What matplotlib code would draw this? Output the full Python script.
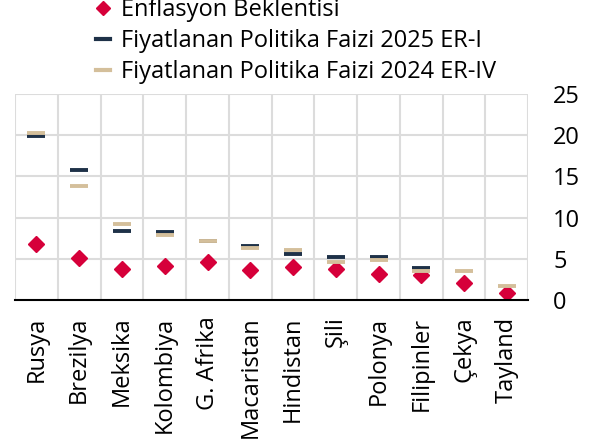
import matplotlib.pyplot as plt
from matplotlib.lines import Line2D
import numpy as np

plt.rcParams['font.family'] = ['Open Sans', 'DejaVu Sans']

# Data
countries = ['Rusya', 'Brezilya', 'Meksika', 'Kolombiya', 'G. Afrika', 'Macaristan',
             'Hindistan', 'Şili', 'Polonya', 'Filipinler', 'Çekya', 'Tayland']
inflation_exp = [6.8, 5.1, 3.8, 4.1, 4.6, 3.6, 4.0, 3.7, 3.2, 3.0, 2.0, 0.9]
rate_2025q1 = [19.9, 15.8, 8.4, 8.2, 7.1, 6.6, 5.6, 5.2, 5.2, 3.9, np.nan, np.nan]
rate_2024q4 = [20.3, 13.8, 9.2, 7.9, 7.1, 6.3, 6.0, 4.6, 4.9, 3.5, 3.5, 1.7]

red = '#d6003a'
navy = '#1e3148'
tan = '#d4bf9b'

fig = plt.figure(figsize=(6.03, 4.45), dpi=100)
ax = fig.add_axes([0.025, 0.326, 0.851, 0.463])

x = np.arange(len(countries))
ax.plot(x, inflation_exp, linestyle='none', marker='D', markersize=8.5,
        color=red, zorder=3)
ax.plot(x, rate_2025q1, linestyle='none', marker='_', markersize=12.5,
        markeredgewidth=2.8, color=navy, zorder=4)
ax.plot(x, rate_2024q4, linestyle='none', marker='_', markersize=12.5,
        markeredgewidth=2.8, color=tan, zorder=5)

ax.set_xlim(-0.5, len(countries) - 0.5)
ax.set_ylim(0, 25)
ax.set_yticks([0, 5, 10, 15, 20, 25])
ax.yaxis.tick_right()
ax.tick_params(axis='y', length=0, labelsize=17, pad=18)
ax.set_xticks(x)
ax.set_xticklabels(countries, rotation=90, fontsize=17)
ax.tick_params(axis='x', length=0, pad=12)

# gridlines: horizontal at ticks, vertical at category boundaries
for yv in [5, 10, 15, 20, 25]:
    ax.axhline(yv, color='#dcdcdc', lw=1.5, zorder=1)
for xv in np.arange(-0.5, len(countries), 1.0):
    ax.axvline(xv, color='#dcdcdc', lw=1.5, zorder=1)

for s in ['top', 'left', 'right']:
    ax.spines[s].set_visible(False)
ax.spines['bottom'].set_color('black')
ax.spines['bottom'].set_linewidth(1.5)
ax.spines['bottom'].set_zorder(6)

handles = [
    Line2D([], [], linestyle='none', marker='D', markersize=7, color=red),
    Line2D([], [], color=navy, lw=3),
    Line2D([], [], color=tan, lw=3),
]
labels = ['Enflasyon Beklentisi', 'Fiyatlanan Politika Faizi 2025 ER-I',
          'Fiyatlanan Politika Faizi 2024 ER-IV']
fig.legend(handles, labels, loc='upper left', bbox_to_anchor=(0.144, 1.025),
           frameon=False, fontsize=17, handlelength=0.6, handletextpad=0.45,
           labelspacing=0.3, borderaxespad=0)

fig.savefig('out.png', dpi=100)
